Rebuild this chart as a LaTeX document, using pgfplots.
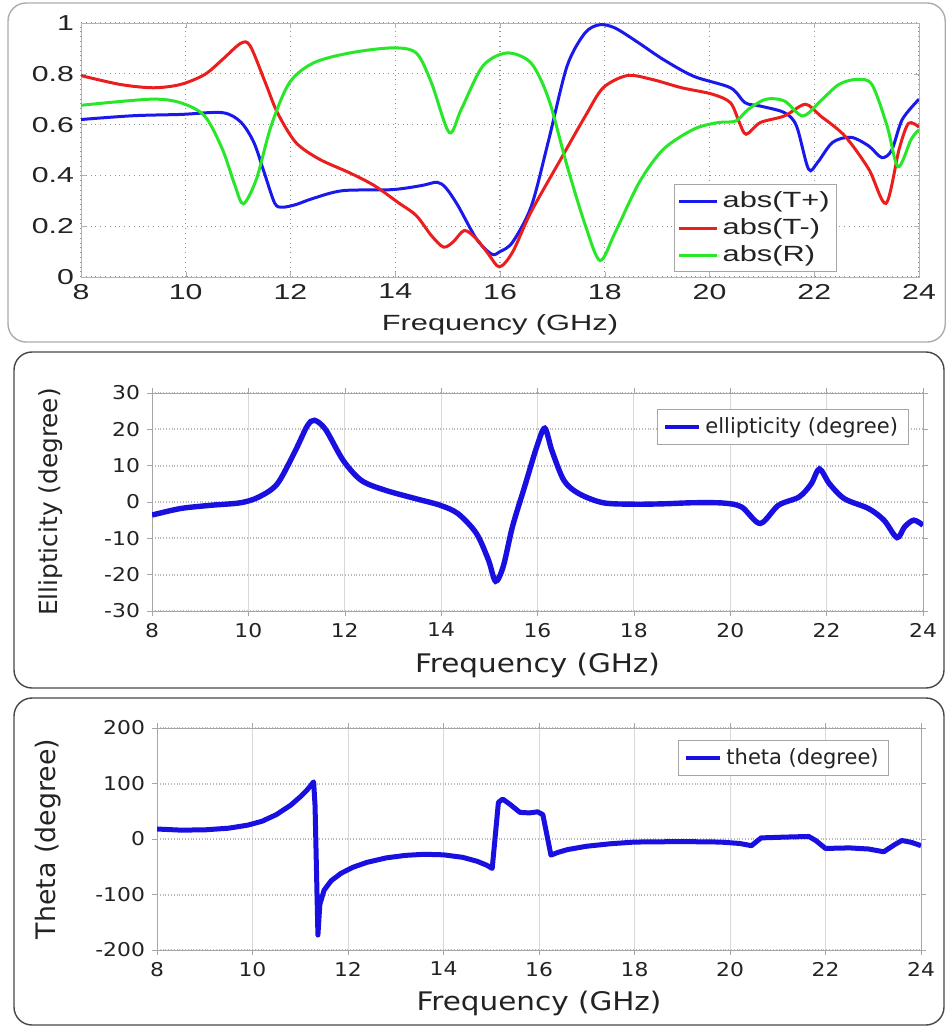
\documentclass[border=0pt]{standalone}
\usepackage{pgfplots}
\pgfplotsset{compat=1.18}
\usepackage{fontspec}
\setmainfont{Liberation Sans}
\newfontfamily\fa{Liberation Sans}[FakeStretch=1.4]
\newfontfamily\fb{DejaVu Sans}[FakeStretch=1.15]
\newfontfamily\fc{DejaVu Sans}
\definecolor{cblue}{RGB}{25,25,235}
\definecolor{cred}{RGB}{235,30,30}
\definecolor{cgreen}{RGB}{40,230,40}
\definecolor{eblue}{RGB}{25,15,225}
\definecolor{txt}{RGB}{35,35,35}

\pgfplotsset{
  frame/.style={
    scale only axis, anchor=south west,
    xmin=8, xmax=24, xtick={8,10,...,24},
    grid=major, clip mode=individual,
    /pgf/number format/assume math mode=true,
    tick label style={text=txt},
    label style={text=txt},
    legend cell align=left,
  },
}

\begin{document}
\begin{tikzpicture}
\path[use as bounding box] (0,0) rectangle (473pt,-513.5pt);
\draw[gray!65, line width=0.7pt, rounded corners=9pt] (4pt,-1.5pt) rectangle (472.6pt,-171pt);
\draw[gray!55!black, line width=0.7pt, rounded corners=9pt] (7pt,-176pt) rectangle (472pt,-344pt);
\draw[gray!55!black, line width=0.7pt, rounded corners=9pt] (7pt,-349pt) rectangle (472pt,-512.5pt);

% transmission / reflection magnitudes
\begin{axis}[frame,
  at={(40.5pt,-138.5pt)}, width=419pt, height=127pt,
  ymin=0, ymax=1, ytick={0,0.2,0.4,0.6,0.8,1},
  yticklabels={0,0.2,0.4,0.6,0.8,1},
  axis line style={gray!60},
  tick style={gray!60}, tick align=inside, major tick length=2.5pt,
  major grid style={gray!85, dotted, line width=0.6pt},
  tick label style={font=\fa\fontsize{10.8}{12}\selectfont},
  xlabel={Frequency (GHz)},
  xlabel style={at={(axis description cs:0.5,-0.19)}, anchor=center, font=\fa\fontsize{11}{13}\selectfont},
  legend style={at={(axis description cs:0.708,0.02)}, anchor=south west, draw=gray!70,
    font=\fa\fontsize{11}{12}\selectfont, text=txt, inner sep=1.5pt, row sep=0pt},
  legend image code/.code={\draw (0pt,0pt) -- (19pt,0pt);},
  every axis plot/.append style={line width=1.5pt, smooth, tension=0.5},
]
\addplot[cblue] coordinates {
(8,0.62) (9,0.635) (9.9,0.64) (10.7,0.647) (11.05,0.61) (11.3,0.53) (11.5,0.41)
(11.7,0.29) (11.85,0.275) (12.1,0.285) (12.44,0.31) (13.0,0.34) (13.94,0.344)
(14.5,0.36) (14.8,0.373) (14.97,0.35) (15.2,0.28) (15.55,0.15) (15.84,0.09)
(16.0,0.10) (16.24,0.137) (16.6,0.28) (16.93,0.54) (17.28,0.83) (17.62,0.96)
(17.9,0.993) (18.2,0.98) (18.66,0.92) (19.12,0.856) (19.7,0.79) (20.4,0.745)
(20.68,0.686) (20.97,0.673) (21.43,0.647) (21.66,0.595) (21.89,0.425) (22.06,0.45)
(22.35,0.53) (22.7,0.55) (23.04,0.516) (23.29,0.47) (23.48,0.5) (23.68,0.62) (24,0.70)
};
\addlegendentry{abs(T+)}
\addplot[cred] coordinates {
(8,0.793) (8.75,0.758) (9.38,0.745) (9.9,0.758) (10.36,0.797) (10.7,0.856)
(11.05,0.92) (11.23,0.91) (11.52,0.765) (11.75,0.647) (12.1,0.53) (12.55,0.464)
(13.13,0.41) (13.6,0.36) (14.05,0.294) (14.4,0.242) (14.69,0.163) (14.92,0.118)
(15.1,0.137) (15.32,0.183) (15.55,0.15) (15.78,0.09) (15.99,0.04) (16.24,0.098)
(16.59,0.255) (17.16,0.464) (17.63,0.634) (17.97,0.745) (18.43,0.793) (18.9,0.778)
(19.47,0.745) (20.05,0.72) (20.4,0.686) (20.57,0.608) (20.7,0.562) (20.97,0.608)
(21.43,0.634) (21.83,0.68) (22.12,0.634) (22.58,0.556) (23.04,0.425) (23.37,0.29)
(23.62,0.503) (23.8,0.605) (24,0.59)
};
\addlegendentry{abs(T-)}
\addplot[cgreen] coordinates {
(8,0.676) (9.33,0.70) (9.9,0.686) (10.36,0.634) (10.7,0.503) (10.94,0.36)
(11.1,0.288) (11.35,0.386) (11.63,0.595) (11.98,0.765) (12.44,0.843) (13.13,0.882)
(13.94,0.902) (14.4,0.882) (14.69,0.765) (15.03,0.569) (15.26,0.66) (15.67,0.83)
(16.13,0.882) (16.59,0.843) (16.93,0.70) (17.28,0.438) (17.63,0.203) (17.91,0.065)
(18.2,0.176) (18.66,0.373) (19.12,0.503) (19.7,0.582) (20.16,0.608) (20.5,0.614)
(20.74,0.66) (21.08,0.70) (21.43,0.693) (21.78,0.634) (22.12,0.693) (22.47,0.758)
(22.81,0.778) (23.1,0.758) (23.39,0.595) (23.6,0.434) (23.85,0.542) (24,0.58)
};
\addlegendentry{abs(R)}
\end{axis}

% ellipticity
\begin{axis}[frame,
  at={(76pt,-305.5pt)}, width=385.5pt, height=109pt,
  ymin=-30, ymax=30, ytick={-30,-20,...,30},
  axis line style={gray!70},
  tick style={gray!70}, tick align=outside, major tick length=2.5pt,
  x grid style={gray!30, line width=0.5pt},
  y grid style={gray!55, densely dotted, line width=1pt},
  tick label style={font=\fb\fontsize{9.5}{11}\selectfont},
  xlabel={Frequency (GHz)},
  xlabel style={at={(axis description cs:0.5,-0.248)}, anchor=center, font=\fb\fontsize{12.8}{15}\selectfont},
  ylabel={Ellipticity (degree)},
  ylabel style={at={(axis description cs:-0.132,0.5)}, anchor=center, font=\fc\fontsize{12.4}{15}\selectfont},
  legend style={at={(axis description cs:0.655,0.927)}, anchor=north west, draw=gray!70,
    font=\fc\fontsize{10.5}{12}\selectfont, text=txt, inner xsep=3pt, inner ysep=2pt},
  legend image code/.code={\draw[line width=2pt] (0pt,0pt) -- (17pt,0pt);},
]
\addplot[eblue, line width=2.7pt, smooth, tension=0.5] coordinates {
(8,-3.6) (8.59,-1.8) (9.22,-0.9) (9.84,-0.2) (10.22,1.4) (10.6,5) (10.97,14)
(11.22,20.9) (11.37,22.5) (11.6,20) (11.97,11.4) (12.35,5.9) (12.85,3.2) (13.48,0.9)
(13.98,-0.9) (14.35,-3.2) (14.73,-8.6) (14.98,-15.9) (15.13,-21.8) (15.29,-17.7)
(15.48,-6.8) (15.73,4.1) (15.98,15) (16.15,20.3) (16.3,14.1) (16.55,5.9) (16.86,2.3)
(17.36,-0.2) (17.99,-0.6) (18.61,-0.5) (19.24,-0.2) (19.87,-0.3) (20.24,-1.4)
(20.62,-5.9) (21.0,-0.9) (21.43,1.4) (21.68,5) (21.85,9.1) (22.06,5) (22.37,0.9)
(22.87,-1.8) (23.19,-5) (23.46,-9.8) (23.62,-6.8) (23.81,-5) (24,-6.4)
};
\addlegendentry{ellipticity (degree)}
\end{axis}

% rotation angle
\begin{axis}[frame,
  at={(78.5pt,-475pt)}, width=382pt, height=111pt,
  ymin=-200, ymax=200, ytick={-200,-100,...,200},
  axis line style={gray!70},
  tick style={gray!70}, tick align=outside, major tick length=2.5pt,
  x grid style={gray!30, line width=0.5pt},
  y grid style={gray!55, densely dotted, line width=1pt},
  tick label style={font=\fb\fontsize{9.5}{11}\selectfont},
  xlabel={Frequency (GHz)},
  xlabel style={at={(axis description cs:0.5,-0.239)}, anchor=center, font=\fb\fontsize{12.8}{15}\selectfont},
  ylabel={Theta (degree)},
  ylabel style={at={(axis description cs:-0.143,0.5)}, anchor=center, font=\fc\fontsize{13.4}{16}\selectfont},
  legend style={at={(axis description cs:0.682,0.946)}, anchor=north west, draw=gray!70,
    font=\fc\fontsize{10.5}{12}\selectfont, text=txt, inner xsep=3pt, inner ysep=2pt},
  legend image code/.code={\draw[line width=2pt] (0pt,0pt) -- (17pt,0pt);},
]
\addplot[eblue, line width=2.5pt, line join=round] coordinates {
(8,18) (8.5,16) (9,16.5) (9.5,19.5) (9.9,25) (10.2,32) (10.5,44) (10.8,61)
(11.0,76) (11.15,89) (11.28,103) (11.31,60) (11.37,-173) (11.41,-118) (11.5,-92)
(11.65,-75) (11.85,-62) (12.1,-51) (12.4,-42) (12.8,-34) (13.2,-29.5) (13.6,-27.5)
(14.0,-28.5) (14.4,-33) (14.7,-40) (14.9,-47) (15.02,-53) (15.15,66) (15.24,72)
(15.4,62) (15.6,48) (15.8,47) (15.97,49) (16.08,44) (16.25,-29) (16.4,-24)
(16.6,-19) (17.0,-13) (17.5,-8.5) (18.0,-5.5) (19.0,-4.6) (19.8,-5.5) (20.2,-8)
(20.45,-12) (20.65,2) (21.14,3.4) (21.65,4.6) (21.8,-3) (22.0,-17) (22.5,-16)
(22.9,-18) (23.22,-23) (23.45,-10) (23.6,-2.7) (23.8,-6) (24,-12)
};
\addlegendentry{theta (degree)}
\end{axis}
\end{tikzpicture}
\end{document}
